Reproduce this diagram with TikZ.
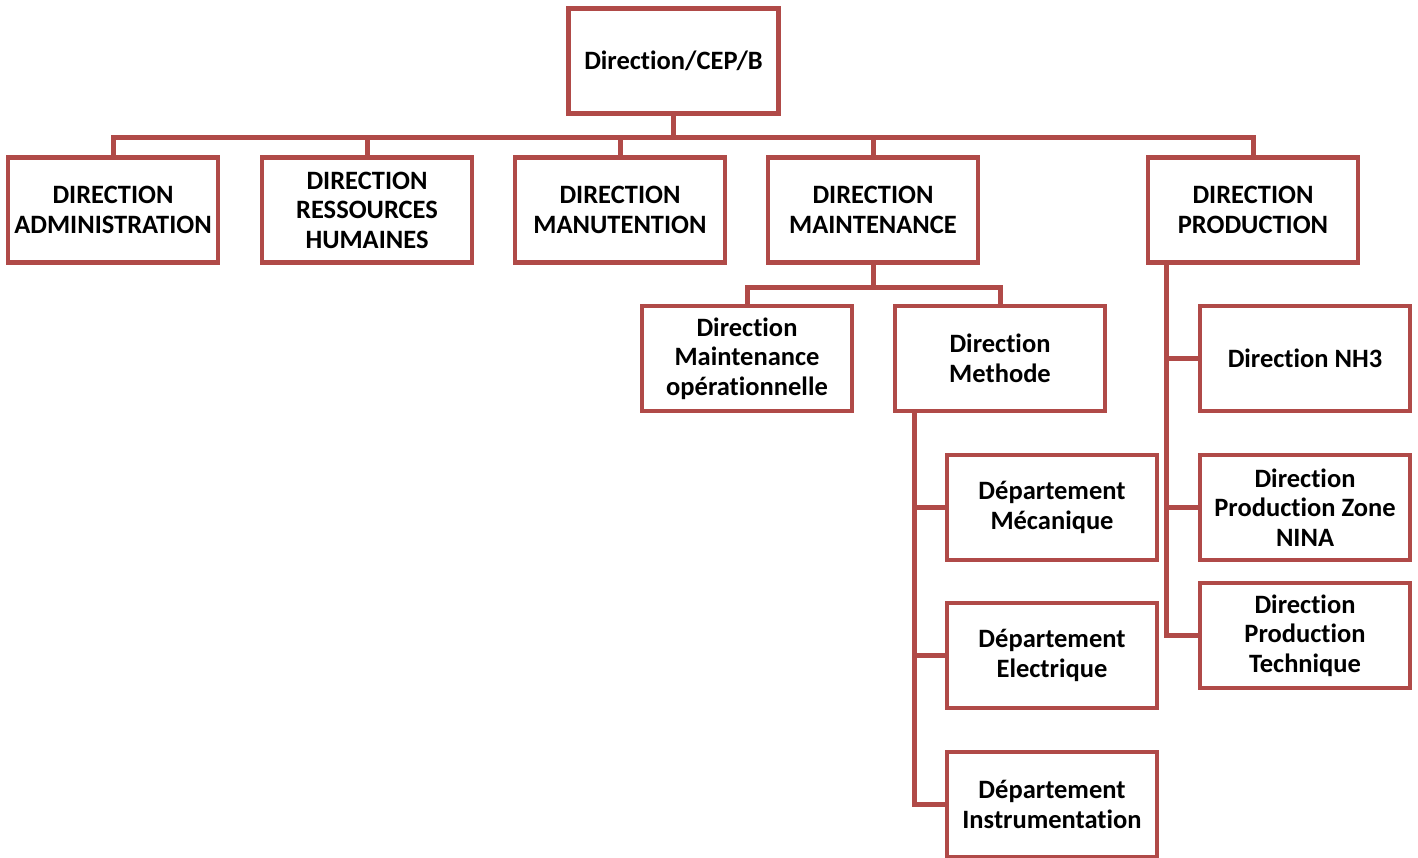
\documentclass[tikz,border=0pt]{standalone}
\usepackage{fontspec}
\setmainfont{Carlito}[Ligatures={NoCommon}]
\definecolor{orgred}{RGB}{176,74,72}
\begin{document}
\begin{tikzpicture}[x=1pt,y=-1pt,
  unit/.style={draw=orgred, line width=4.5pt, fill=white, minimum width=210pt,
    minimum height=105pt, align=center, inner sep=2pt,
    font=\fontsize{26.5}{29.5}\selectfont\bfseries},
  link/.style={draw=orgred, line width=5pt}]
\useasboundingbox (0,0) rectangle (1418,857);

% top of the chart
\node[unit] (cep) at (673.5,61) {Direction/CEP/B};

% first level
\node[unit] (adm)  at (113,210) {DIRECTION\\ADMINISTRATION};
\node[unit] (rh)   at (367,210) {DIRECTION\\RESSOURCES\\HUMAINES};
\node[unit] (man)  at (620,210) {DIRECTION\\MANUTENTION};
\node[unit] (mnt)  at (873,210) {DIRECTION\\MAINTENANCE};
\node[unit] (prod) at (1253,210) {DIRECTION\\PRODUCTION};

% maintenance branch
\node[unit] (ops)  at (747,358.5) {Direction\\Maintenance\\opérationnelle};
\node[unit] (meth) at (1000,358.5) {Direction\\Methode};
\node[unit] (meca) at (1052,507.5) {Département\\Mécanique};
\node[unit] (elec) at (1052,655.5) {Département\\Electrique};
\node[unit] (inst) at (1052,804.5) {Département\\Instrumentation};

% production branch
\node[unit] (nh3)  at (1305,358.5) {Direction NH3};
\node[unit] (nina) at (1305,507.5) {Direction\\Production Zone\\NINA};
\node[unit] (tech) at (1305,635.5) {Direction\\Production\\Technique};

% connectors: top level bus
\foreach \c in {adm,rh,man,mnt,prod}
  \draw[link] (cep.south) -- ++(0,22) -| (\c.north);

% connectors: maintenance bus
\foreach \c in {ops,meth}
  \draw[link] (mnt.south) -- ++(0,23) -| (\c.north);

% connectors: side trees
\foreach \c in {meca,elec,inst}
  \draw[link] ([xshift=22pt]meth.south west) |- (\c.west);
\foreach \c in {nh3,nina,tech}
  \draw[link] ([xshift=21pt]prod.south west) |- (\c.west);
\end{tikzpicture}
\end{document}
